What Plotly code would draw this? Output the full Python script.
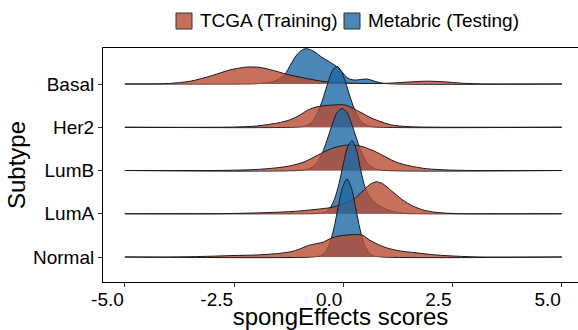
import plotly.graph_objects as go

# ---------------- data ----------------
subtypes = ["Basal", "Her2", "LumB", "LumA", "Normal"]
subtype_pos = [5, 4, 3, 2, 1]
datasets = ["TCGA (Training)", "Metabric (Testing)"]
x_ticks = [-5.0, -2.5, 0.0, 2.5, 5.0]
x_tick_labels = ["-5.0", "-2.5", "0.0", "2.5", "5.0"]

# kernel-density estimates, heights in relative density units
basal_tcga_x = [-5.0, -4.5, -4.0, -3.5, -3.0, -2.6, -2.2, -1.9, -1.6, -1.3, -0.9, -0.4, 0.0, 0.5, 1.0, 1.5, 1.9, 2.3, 2.7, 3.2, 3.6, 5.0]
basal_tcga_d = [0, 0, 0.5, 2.8, 8.5, 14, 17, 16.5, 13.5, 9.8, 6, 2.2, 1.2, 0.5, 0.7, 2, 2.8, 2.2, 0.8, 0.1, 0, 0]
basal_meta_x = [-5.0, -2.5, -2.0, -1.6, -1.35, -1.2, -1.05, -0.9, -0.8, -0.65, -0.5, -0.35, -0.2, -0.05, 0.1, 0.25, 0.4, 0.55, 0.7, 0.9, 1.2, 5.0]
basal_meta_d = [0, 0, 0.3, 2.5, 9, 20, 30, 35, 35, 32, 27, 23, 19, 13, 6, 4, 4.5, 5, 3, 0.8, 0, 0]

her2_tcga_x = [-5.0, -2.5, -2.0, -1.5, -1.25, -1.0, -0.8, -0.6, -0.3, 0.0, 0.15, 0.3, 0.45, 0.6, 0.8, 1.1, 1.5, 2.0, 2.5, 5.0]
her2_tcga_d = [0, 0.2, 1.2, 4.3, 7, 12, 17.5, 20.5, 22, 22.5, 20.5, 17, 13.7, 10, 6.5, 2.3, 0.6, 0.1, 0, 0]
her2_meta_x = [-5.0, -1.15, -0.9, -0.75, -0.65, -0.55, -0.45, -0.35, -0.25, -0.15, -0.05, 0.05, 0.15, 0.25, 0.35, 0.45, 0.6, 0.85, 5.0]
her2_meta_d = [0, 0, 1, 4, 9.5, 18.5, 31, 45, 56.5, 61, 56.5, 45, 31, 18.5, 9.5, 4, 1, 0, 0]

lumb_tcga_x = [-5.0, -3.0, -2.5, -2.0, -1.5, -1.2, -0.9, -0.6, -0.3, 0.0, 0.2, 0.45, 0.7, 0.95, 1.2, 1.5, 1.9, 2.4, 3.0, 5.0]
lumb_tcga_d = [0, 0, 0.3, 1, 2.8, 4.8, 8.5, 15, 21.5, 25, 25.7, 23.7, 19.5, 14, 8.5, 4.8, 1.8, 0.5, 0, 0]
lumb_meta_x = [-5.0, -1.05, -0.8, -0.65, -0.55, -0.45, -0.35, -0.25, -0.15, -0.03, 0.09, 0.19, 0.29, 0.39, 0.49, 0.59, 0.74, 1.0, 5.0]
lumb_meta_d = [0, 0, 1.5, 5.5, 11.5, 21, 33.5, 46.5, 57.5, 62, 57.5, 46.5, 33.5, 21, 11.5, 5.5, 1.5, 0, 0]

luma_tcga_x = [-5.0, -3.0, -2.5, -2.0, -1.5, -1.0, -0.5, -0.25, 0.0, 0.25, 0.45, 0.6, 0.75, 0.9, 1.1, 1.35, 1.6, 1.85, 2.1, 2.4, 2.8, 5.0]
luma_tcga_d = [0, 0, 0.3, 0.8, 1.5, 2.8, 5, 6.5, 10, 15, 23, 29, 32, 30, 23, 14, 7.5, 3.5, 1.5, 0.5, 0, 0]
luma_meta_x = [-5.0, -1.0, -0.6, -0.4, -0.3, -0.2, -0.1, 0.0, 0.1, 0.2, 0.3, 0.4, 0.5, 0.6, 0.7, 0.8, 1.0, 1.2, 1.4, 1.7, 5.0]
luma_meta_d = [0, 0, 0.3, 2, 6, 15, 30, 50, 67, 73, 64, 43, 26, 17, 12, 8.5, 4, 1.5, 0.3, 0, 0]

normal_tcga_x = [-5.0, -4.0, -3.5, -3.0, -2.5, -2.0, -1.5, -1.2, -1.0, -0.8, -0.6, -0.45, -0.3, -0.1, 0.1, 0.3, 0.45, 0.6, 0.8, 1.0, 1.3, 1.6, 2.0, 2.3, 2.7, 3.2, 5.0]
normal_tcga_d = [0, 0, 0.3, 0.8, 1.5, 2, 3.5, 5.3, 8, 11.5, 13.5, 15, 18.5, 21, 22, 22.5, 21.5, 17, 12.5, 9, 6, 4.5, 2.5, 1.5, 0.6, 0, 0]
normal_meta_x = [-5.0, -0.72, -0.52, -0.42, -0.32, -0.22, -0.12, -0.02, 0.08, 0.18, 0.28, 0.38, 0.48, 0.58, 0.68, 0.88, 5.0]
normal_meta_d = [0, 0, 1.3, 4.5, 12.5, 28, 49.5, 69.5, 78, 69.5, 49.5, 28, 12.5, 4.5, 1.3, 0, 0]

# ---------------- style ----------------
W, H = 578, 330
ML, MR, MT, MB = 103, 0, 48, 48
PX_PER_X = 43.7
RIDGE_SCALE = 1 / 43.25
FILL = {"TCGA (Training)": "rgba(185,76,51,0.8)", "Metabric (Testing)": "rgba(29,104,164,0.8)"}
OUTLINE = "#1a1a1a"
FONT = "Liberation Sans, Arial, Helvetica, sans-serif"

ridges = {
    "Basal": {"TCGA (Training)": (basal_tcga_x, basal_tcga_d), "Metabric (Testing)": (basal_meta_x, basal_meta_d)},
    "Her2": {"TCGA (Training)": (her2_tcga_x, her2_tcga_d), "Metabric (Testing)": (her2_meta_x, her2_meta_d)},
    "LumB": {"TCGA (Training)": (lumb_tcga_x, lumb_tcga_d), "Metabric (Testing)": (lumb_meta_x, lumb_meta_d)},
    "LumA": {"TCGA (Training)": (luma_tcga_x, luma_tcga_d), "Metabric (Testing)": (luma_meta_x, luma_meta_d)},
    "Normal": {"TCGA (Training)": (normal_tcga_x, normal_tcga_d), "Metabric (Testing)": (normal_meta_x, normal_meta_d)},
}

fig = go.Figure()

# top row first so lower rows overlap it; within a row Metabric first, TCGA on top
for name, pos in zip(subtypes, subtype_pos):
    for ds in ["Metabric (Testing)", "TCGA (Training)"]:
        xs, dens = ridges[name][ds]
        fig.add_trace(go.Scatter(
            x=[xs[0], xs[-1]], y=[pos, pos], mode="lines",
            line=dict(width=0, color="rgba(0,0,0,0)"), showlegend=False, hoverinfo="skip"))
        fig.add_trace(go.Scatter(
            x=xs, y=[pos + v * RIDGE_SCALE for v in dens], mode="lines",
            line=dict(color=OUTLINE, width=1, shape="spline", smoothing=0.8),
            fill="tonexty", fillcolor=FILL[ds], showlegend=False, name=ds))

# ---- legend (keys + text, placed in pixels above the panel) ----
plot_w = W - ML - MR
plot_h = H - MT - MB


def px_to_paper_x(px):
    return (px - ML) / plot_w


def px_to_paper_y(py):
    return (H - MB - py) / plot_h


legend_key_left = [176, 344]
legend_text_left = [198, 366]
legend_cy = 21
key = 16
for ds, kx, tx in zip(datasets, legend_key_left, legend_text_left):
    fig.add_shape(type="rect", xref="paper", yref="paper",
                  x0=px_to_paper_x(kx), x1=px_to_paper_x(kx + key),
                  y0=px_to_paper_y(legend_cy + key / 2), y1=px_to_paper_y(legend_cy - key / 2),
                  fillcolor=FILL[ds], line=dict(color="#333333", width=1), layer="above")
    fig.add_annotation(text=ds, xref="paper", yref="paper",
                       x=px_to_paper_x(tx), y=px_to_paper_y(legend_cy),
                       xanchor="left", yanchor="middle", showarrow=False,
                       font=dict(size=19, color="black", family=FONT))

fig.update_layout(
    width=W, height=H,
    margin=dict(l=ML, r=MR, t=MT, b=MB, autoexpand=False),
    paper_bgcolor="white", plot_bgcolor="white",
    font=dict(family=FONT, color="black", size=19),
    showlegend=False,
)
fig.update_xaxes(
    range=[-5.5, -5.5 + plot_w / PX_PER_X], tickvals=x_ticks, ticktext=x_tick_labels,
    ticks="outside", ticklen=4, tickcolor="#333333", tickwidth=1,
    ticklabelposition="outside left",
    showline=True, linecolor="black", linewidth=1, mirror=True,
    showgrid=False, zeroline=False,
    tickfont=dict(size=19, color="black"),
    title=dict(text="spongEffects scores", font=dict(size=24), standoff=3),
)
fig.update_yaxes(
    range=[0.422, 0.422 + plot_h / 43.25], tickvals=subtype_pos, ticktext=subtypes,
    ticks="outside", ticklen=4, tickcolor="#333333", tickwidth=1,
    showline=True, linecolor="black", linewidth=1, mirror=False,
    showgrid=False, zeroline=False,
    tickfont=dict(size=19, color="black"),
    title=dict(text="Subtype", font=dict(size=24), standoff=0),
)

fig.write_html("out.html", post_script="document.body.style.margin='0';",
               config={"displayModeBar": False})
